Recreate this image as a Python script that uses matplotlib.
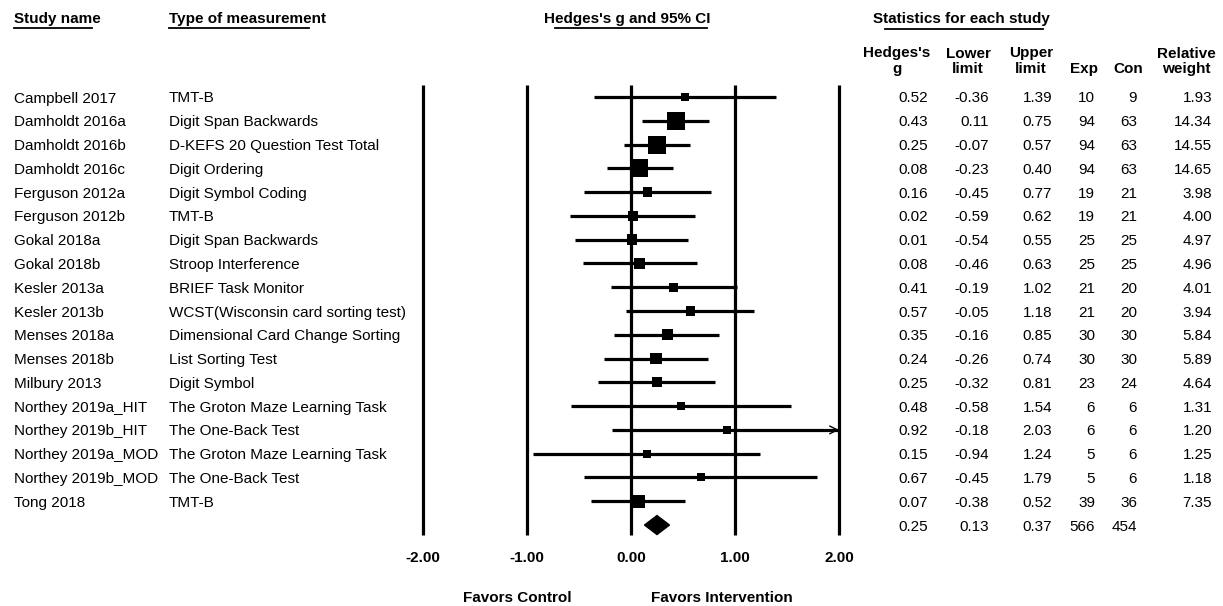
import numpy as np
import matplotlib
matplotlib.use("Agg")
import matplotlib.pyplot as plt
from matplotlib.transforms import blended_transform_factory
from matplotlib.patches import Polygon
from matplotlib.lines import Line2D

plt.rcParams['font.family'] = ['Liberation Sans', 'DejaVu Sans']

# ---------------- data ----------------
studies = ["Campbell 2017", "Damholdt 2016a", "Damholdt 2016b", "Damholdt 2016c",
           "Ferguson 2012a", "Ferguson 2012b", "Gokal 2018a", "Gokal 2018b",
           "Kesler 2013a", "Kesler 2013b", "Menses 2018a", "Menses 2018b",
           "Milbury 2013", "Northey 2019a_HIT", "Northey 2019b_HIT",
           "Northey 2019a_MOD", "Northey 2019b_MOD", "Tong 2018"]
measures = ["TMT-B", "Digit Span Backwards", "D-KEFS 20 Question Test Total",
            "Digit Ordering", "Digit Symbol Coding", "TMT-B", "Digit Span Backwards",
            "Stroop Interference", "BRIEF Task Monitor",
            "WCST(Wisconsin card sorting test)", "Dimensional Card Change Sorting",
            "List Sorting Test", "Digit Symbol", "The Groton Maze Learning Task",
            "The One-Back Test", "The Groton Maze Learning Task", "The One-Back Test",
            "TMT-B"]
hedges_g = [0.52, 0.43, 0.25, 0.08, 0.16, 0.02, 0.01, 0.08, 0.41, 0.57, 0.35, 0.24,
            0.25, 0.48, 0.92, 0.15, 0.67, 0.07]
lower = [-0.36, 0.11, -0.07, -0.23, -0.45, -0.59, -0.54, -0.46, -0.19, -0.05, -0.16,
         -0.26, -0.32, -0.58, -0.18, -0.94, -0.45, -0.38]
upper = [1.39, 0.75, 0.57, 0.40, 0.77, 0.62, 0.55, 0.63, 1.02, 1.18, 0.85, 0.74,
         0.81, 1.54, 2.03, 1.24, 1.79, 0.52]
exp_n = [10, 94, 94, 94, 19, 19, 25, 25, 21, 21, 30, 30, 23, 6, 6, 5, 5, 39]
con_n = [9, 63, 63, 63, 21, 21, 25, 25, 20, 20, 30, 30, 24, 6, 6, 6, 6, 36]
weight = [1.93, 14.34, 14.55, 14.65, 3.98, 4.00, 4.97, 4.96, 4.01, 3.94, 5.84, 5.89,
          4.64, 1.31, 1.20, 1.25, 1.18, 7.35]
summary_g, summary_lo, summary_hi = 0.25, 0.13, 0.37
summary_exp, summary_con = 566, 454
axis_ticks = [-2.0, -1.0, 0.0, 1.0, 2.0]

# ---------------- layout ----------------
W, H = 1223, 606
X0, XS = 631.0, 104.0        # pixel of 0 and pixels per unit
ROW0, ROWH = 97.0, 23.78     # pixel of first row and row height

fig = plt.figure(figsize=(W / 100, H / 100), dpi=100)
fig.patch.set_facecolor('white')
ax = fig.add_axes([0, 0, 1, 1])
ax.set_xlim((0 - X0) / XS, (W - X0) / XS)
ax.set_ylim((H - ROW0) / ROWH, (0 - ROW0) / ROWH)
ax.axis('off')

def prow(ypx):
    return (ypx - ROW0) / ROWH

tr = blended_transform_factory(fig.transFigure, ax.transData)
FS = 11
n = len(studies)
rows = np.arange(n)
srow = n

# headers
ax.text(14 / W, prow(18), "Study name", transform=tr, fontsize=FS, fontweight='bold',
        va='center_baseline', ha='left')
ax.text(169 / W, prow(18), "Type of measurement", transform=tr, fontsize=FS,
        fontweight='bold', va='center_baseline', ha='left')
ax.text(627.5 / W, prow(18), "Hedges's g and 95% CI", transform=tr, fontsize=FS,
        fontweight='bold', va='center_baseline', ha='center')
ax.text(961 / W, prow(18), "Statistics for each study", transform=tr, fontsize=FS,
        fontweight='bold', va='center_baseline', ha='center')
for (x0, x1, y) in [(14, 92, 27.5), (169, 309, 27.5), (555, 707, 28), (885, 1043, 28.5)]:
    fig.add_artist(Line2D([x0 / W, x1 / W], [1 - y / H, 1 - y / H], color='black', lw=1.3))

col_heads = [("Hedges's", "g", 897), ("Lower", "limit", 968), ("Upper", "limit", 1031),
             ("", "Exp", 1084), ("", "Con", 1128), ("Relative", "weight", 1186)]
for l1, l2, cx in col_heads:
    if l1:
        ax.text(cx / W, prow(52), l1, transform=tr, fontsize=FS, fontweight='bold',
                ha='center', va='center_baseline')
    ax.text(cx / W, prow(67.5), l2, transform=tr, fontsize=FS, fontweight='bold',
            ha='center', va='center_baseline')

# row texts
col_right = [928, 989, 1052, 1095, 1137, 1212]
for i in range(n):
    ax.text(14 / W, i, studies[i], transform=tr, fontsize=FS, va='center_baseline')
    ax.text(169 / W, i, measures[i], transform=tr, fontsize=FS, va='center_baseline')
    vals = [f"{hedges_g[i]:.2f}", f"{lower[i]:.2f}", f"{upper[i]:.2f}",
            f"{exp_n[i]}", f"{con_n[i]}", f"{weight[i]:.2f}"]
    for v, xr in zip(vals, col_right):
        ax.text(xr / W, i, v, transform=tr, fontsize=FS, ha='right', va='center_baseline')
svals = [f"{summary_g:.2f}", f"{summary_lo:.2f}", f"{summary_hi:.2f}",
         f"{summary_exp}", f"{summary_con}"]
for v, xr in zip(svals, col_right[:5]):
    ax.text(xr / W, srow, v, transform=tr, fontsize=FS, ha='right', va='center_baseline')

# vertical reference lines
ax.vlines(axis_ticks, prow(85), prow(535), color='black', lw=2.3, zorder=1)
for t in axis_ticks:
    ax.text(t, prow(557), f"{t:.2f}", fontsize=FS, fontweight='bold', ha='center',
            va='center_baseline')

# CI lines
xmax = max(axis_ticks)
up_clip = np.minimum(upper, xmax)
ax.hlines(rows, lower, up_clip, color='black', lw=2.3, zorder=2)
for i in range(n):
    if upper[i] > xmax:
        ax.annotate('', xy=(xmax, i), xytext=(xmax - 0.15, i),
                    arrowprops=dict(arrowstyle='->', lw=1.0, color='black',
                                    mutation_scale=14, shrinkA=0, shrinkB=0))

# squares
side_px = np.maximum(8.0, 4.7 * np.sqrt(np.array(weight)))
ax.scatter(hedges_g, rows, marker='s', s=(side_px * 0.72) ** 2, c='black',
           linewidths=0, zorder=3)

# summary diamond
hh = 9.5 / ROWH
ax.add_patch(Polygon([(summary_lo, srow), (summary_g, srow - hh), (summary_hi, srow),
                      (summary_g, srow + hh)], closed=True, color='black', zorder=3))

# favors labels
ax.text(517 / W, prow(597), "Favors Control", transform=tr, fontsize=FS,
        fontweight='bold', ha='center', va='center_baseline')
ax.text(722 / W, prow(597), "Favors Intervention", transform=tr, fontsize=FS,
        fontweight='bold', ha='center', va='center_baseline')

fig.savefig("out.png", dpi=100, facecolor='white')
